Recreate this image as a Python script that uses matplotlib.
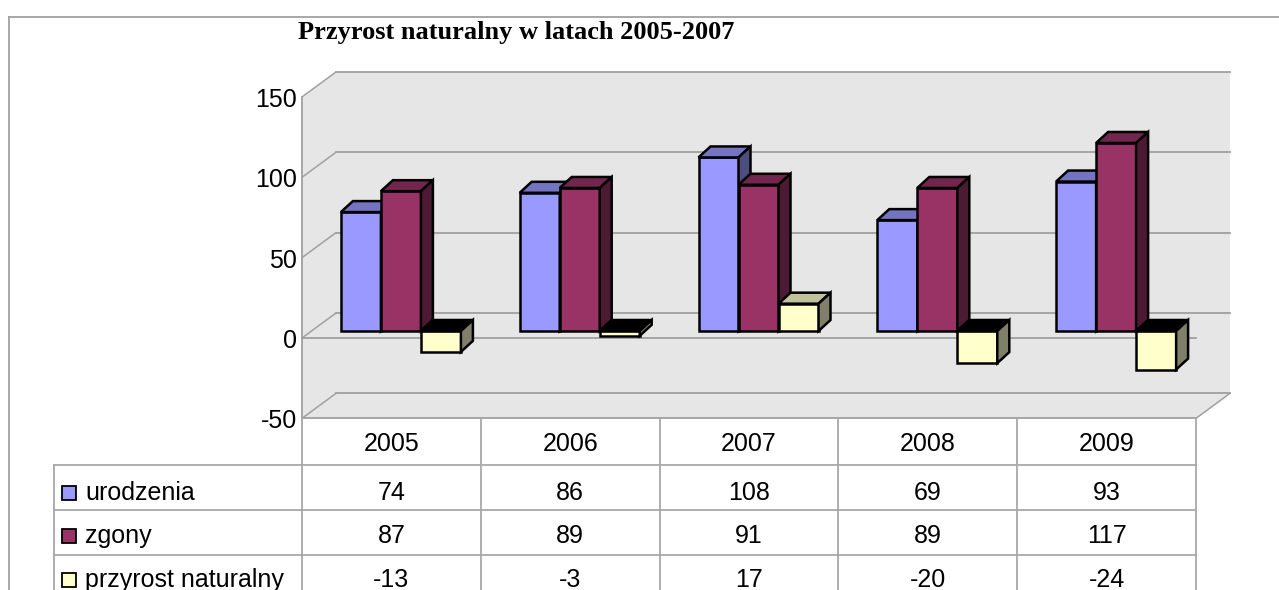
import matplotlib.pyplot as plt
from matplotlib.patches import Polygon, Rectangle
import numpy as np

years = ["2005", "2006", "2007", "2008", "2009"]
series_names = ["urodzenia", "zgony", "przyrost naturalny"]
urodzenia = [74, 86, 108, 69, 93]
zgony = [87, 89, 91, 89, 117]
przyrost = [-13, -3, 17, -20, -24]
y_ticks = [-50, 0, 50, 100, 150]

front_colors = ["#9999ff", "#993366", "#ffffcc"]
top_colors = ["#7474c2", "#73264d", "#c1c19c"]
side_colors = ["#4d4d80", "#4d1a33", "#80806a"]

# layout in pixels (figure is 1279 x 590)
W, H = 1279, 590
CAT_PX = 178.8    # pixels per category
UNIT_PX = 1.607   # pixels per value unit
X0_PX = 302       # left edge of front plane
Y0_PX = 338       # zero level of front plane, from top

fig = plt.figure(figsize=(W / 100, H / 100), dpi=100)
ax = fig.add_axes([0, 0, 1, 1])
ax.set_xlim(-0.5 - X0_PX / CAT_PX, -0.5 + (W - X0_PX) / CAT_PX)
ax.set_ylim(-(H - Y0_PX) / UNIT_PX, Y0_PX / UNIT_PX)
ax.axis("off")


def dx(p):
    return p / CAT_PX


def dy(p):
    return p / UNIT_PX


def xpx(p):
    return -0.5 + (p - X0_PX) / CAT_PX


def ypx(p):
    return (Y0_PX - p) / UNIT_PX


grid_col = "#a0a0a0"
n = len(years)
L, R = -0.5, n - 0.5
ymin, ymax = min(y_ticks), max(y_ticks)
wdx, wdy = dx(34), dy(25)

# walls + floor
wall = Polygon([(L, ymax), (L + wdx, ymax + wdy), (R + wdx, ymax + wdy),
                (R + wdx, ymin + wdy), (R, ymin), (L, ymin)],
               closed=True, facecolor="#e6e6e6", edgecolor="none", zorder=1)
ax.add_patch(wall)
for t in y_ticks:
    ax.plot([L + wdx, R + wdx], [t + wdy, t + wdy], color=grid_col, lw=1.3, zorder=2)
    ax.plot([L, L + wdx], [t, t + wdy], color=grid_col, lw=1.1, zorder=2)
    ax.text(L - dx(5), t - dy(3), str(t), ha="right", va="center",
            fontsize=18, family="Liberation Sans")
ax.plot([L, L], [ymin, ymax], color=grid_col, lw=1.3, zorder=2)
ax.plot([L, R], [0, 0], color=grid_col, lw=1.3, zorder=2)
ax.plot([L, R], [ymin, ymin], color=grid_col, lw=1.3, zorder=2)
ax.plot([R, R + wdx], [ymin, ymin + wdy], color=grid_col, lw=1.1, zorder=2)

# bars
series = [urodzenia, zgony, przyrost]
bw = dx(40)
pdx, pdy = dx(9.5), dy(7)
bdx, bdy = dx(12), dy(11)
xs = np.arange(n)
z = 3
for i in range(n):
    for s, vals in enumerate(series):
        v = vals[i]
        x0 = xs[i] + pdx + (s - 1.5) * bw
        base = pdy
        lo, hi = base + min(v, 0), base + max(v, 0)
        ax.bar(x0, v, width=bw, bottom=base, align="edge", color=front_colors[s],
               edgecolor="black", lw=1.8, zorder=z)
        top_c = "black" if v < 0 else top_colors[s]
        ax.add_patch(Polygon([(x0, hi), (x0 + bdx, hi + bdy), (x0 + bw + bdx, hi + bdy),
                              (x0 + bw, hi)], closed=True, facecolor=top_c,
                             edgecolor="black", lw=1.8, zorder=z))
        ax.add_patch(Polygon([(x0 + bw, lo), (x0 + bw + bdx, lo + bdy),
                              (x0 + bw + bdx, hi + bdy), (x0 + bw, hi)], closed=True,
                             facecolor=side_colors[s], edgecolor="black", lw=1.8, zorder=z))
        z += 1

# data table
tab_col = "#a8a8a8"
row_lines = [465, 510, 555]
row_centers = [492.5, 536, 580]
for yl in row_lines:
    ax.plot([xpx(54), R], [ypx(yl), ypx(yl)], color=tab_col, lw=1.3, zorder=2)
for b in np.arange(n + 1) - 0.5:
    ax.plot([b, b], [ypx(418), ypx(H + 5)], color=tab_col, lw=1.3, zorder=2)
ax.plot([xpx(54), xpx(54)], [ypx(465), ypx(H + 5)], color=tab_col, lw=1.3, zorder=2)

for i, yr in enumerate(years):
    ax.text(xs[i], ypx(444), yr, ha="center", va="center", fontsize=18,
            family="Liberation Sans")
for s, vals in enumerate(series):
    yc = ypx(row_centers[s])
    ax.add_patch(Rectangle((xpx(62), ypx(row_centers[s] + 7)), dx(14), dy(14),
                           facecolor=front_colors[s], edgecolor="black", lw=1.3, zorder=3))
    ax.text(xpx(85), yc, series_names[s], ha="left", va="center", fontsize=18,
            family="Liberation Sans")
    for i, v in enumerate(vals):
        ax.text(xs[i], yc, str(v), ha="center", va="center", fontsize=18,
                family="Liberation Sans")

# outer frame
ax.plot([xpx(9.5), xpx(9.5)], [ypx(17), ypx(H + 5)], color=grid_col, lw=1.3, clip_on=False)
ax.plot([xpx(9.5), xpx(W + 5)], [ypx(17), ypx(17)], color=grid_col, lw=1.3, clip_on=False)

fig.text(516.5 / W, 1 - 32 / H, "Przyrost naturalny w latach 2005-2007",
         ha="center", va="center", fontsize=19, fontweight="bold",
         family="Liberation Serif")

fig.savefig("out.png", dpi=100)
